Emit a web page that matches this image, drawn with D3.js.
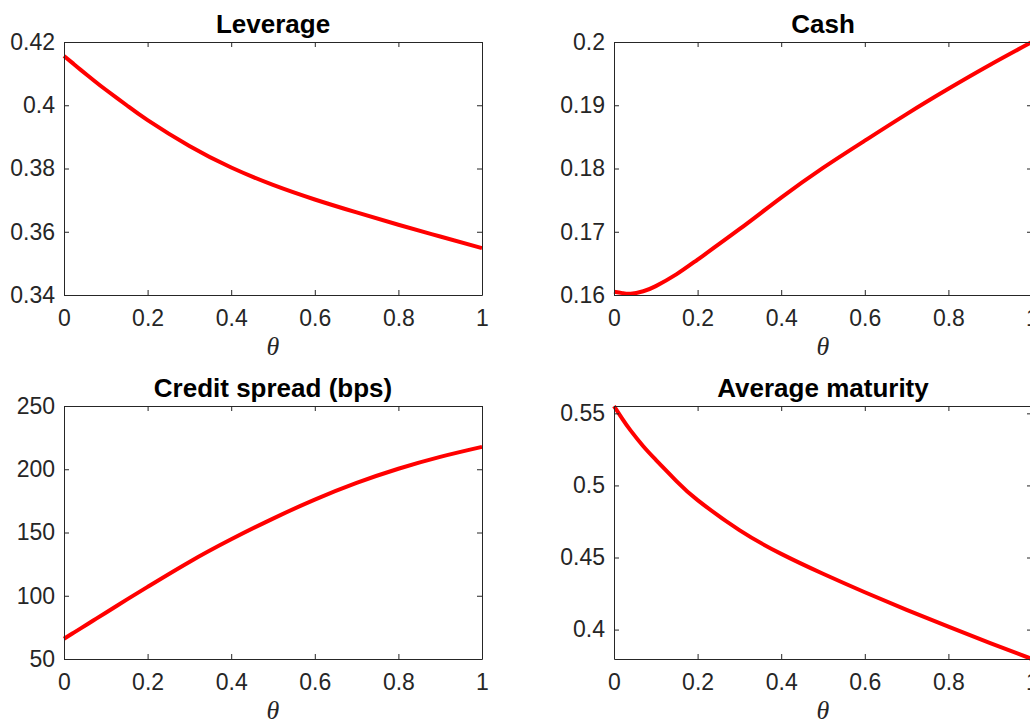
<!DOCTYPE html>
<html>
<head>
<meta charset="utf-8">
<script src="https://cdn.jsdelivr.net/npm/d3@7"></script>
<style>
  html, body { margin: 0; padding: 0; background: #fff; overflow: hidden; }
  svg { display: block; }
</style>
</head>
<body>
<svg id="chart" width="1030" height="721"></svg>
<script>
// data
const theta = [0, 0.02, 0.04, 0.07, 0.1, 0.15, 0.2, 0.3, 0.4, 0.5, 0.6, 0.7, 0.8, 0.9, 1];
const leverage = [0.4156, 0.4134, 0.4112, 0.4080, 0.4049, 0.4000, 0.3953, 0.3871, 0.3803, 0.3748, 0.3702, 0.3661, 0.3622, 0.3585, 0.3548];
const cash = [0.1605, 0.1603, 0.1602, 0.1606, 0.1614, 0.1633, 0.1656, 0.1704, 0.1754, 0.1801, 0.1844, 0.1886, 0.1926, 0.1964, 0.2000];
const creditSpread = [66.0, 70.1, 74.2, 80.4, 86.6, 96.9, 107.0, 126.7, 144.6, 161.0, 176.0, 189.2, 200.4, 209.8, 217.7];
const avgMaturity = [0.5550, 0.5462, 0.5380, 0.5272, 0.5178, 0.5028, 0.4898, 0.4690, 0.4525, 0.4387, 0.4259, 0.4137, 0.4020, 0.3906, 0.3796];

const titles = ["Leverage", "Cash", "Credit spread (bps)", "Average maturity"];
const xTicks = [0, 0.2, 0.4, 0.6, 0.8, 1];
const levTicks = [0.34, 0.36, 0.38, 0.40, 0.42];
const cashTicks = [0.16, 0.17, 0.18, 0.19, 0.20];
const spreadTicks = [50, 100, 150, 200, 250];
const matTicks = [0.40, 0.45, 0.50, 0.55];

const panels = [
  { title: titles[0], y: leverage, domain: [0.34, 0.42], ticks: levTicks, col: 0, row: 0 },
  { title: titles[1], y: cash, domain: [0.16, 0.20], ticks: cashTicks, col: 1, row: 0 },
  { title: titles[2], y: creditSpread, domain: [50, 250], ticks: spreadTicks, col: 0, row: 1 },
  { title: titles[3], y: avgMaturity, domain: [0.3796, 0.5551], ticks: matTicks, col: 1, row: 1 }
];

const svg = d3.select("#chart");
const axW = 418, axH = 253;
const colX = [64, 614], rowY = [42, 406];
const ink = "#262626";
const sans = "'Liberation Sans', Arial, Helvetica, sans-serif";
const fmt = d => String(+d.toFixed(4));

panels.forEach(p => {
  const g = svg.append("g").attr("transform", `translate(${colX[p.col]},${rowY[p.row]})`);
  const x = d3.scaleLinear().domain([0, 1]).range([0, axW]);
  const y = d3.scaleLinear().domain(p.domain).range([axH, 0]);

  // curve
  const line = d3.line()
    .x((d, i) => x(theta[i]))
    .y(d => y(d))
    .curve(d3.curveNatural);
  g.append("path")
    .datum(p.y)
    .attr("d", line)
    .attr("fill", "none")
    .attr("stroke", "#ff0000")
    .attr("stroke-width", 4);

  // axes with inward ticks, mirrored on top/right
  const styleAxis = sel => {
    sel.select(".domain").attr("stroke", ink).attr("stroke-width", 1);
    sel.selectAll(".tick line").attr("stroke", ink);
    sel.selectAll("text").attr("fill", ink)
      .style("font-family", sans)
      .style("font-size", "23px");
  };
  g.append("g").attr("transform", `translate(0,${axH})`)
    .call(d3.axisBottom(x).tickValues(xTicks).tickSizeInner(-5).tickSizeOuter(0).tickPadding(15).tickFormat(fmt))
    .call(styleAxis);
  g.append("g")
    .call(d3.axisTop(x).tickValues(xTicks).tickSizeInner(-5).tickSizeOuter(0).tickFormat(""))
    .call(styleAxis);
  g.append("g")
    .call(d3.axisLeft(y).tickValues(p.ticks).tickSizeInner(-5).tickSizeOuter(0).tickPadding(9).tickFormat(fmt))
    .call(styleAxis);
  g.append("g").attr("transform", `translate(${axW},0)`)
    .call(d3.axisRight(y).tickValues(p.ticks).tickSizeInner(-5).tickSizeOuter(0).tickFormat(""))
    .call(styleAxis);

  // title
  g.append("text")
    .attr("x", axW / 2).attr("y", -9)
    .attr("text-anchor", "middle")
    .style("font-family", sans)
    .style("font-weight", "bold")
    .style("font-size", "26px")
    .attr("fill", "#000")
    .text(p.title);

  // x label
  g.append("text")
    .attr("x", axW / 2).attr("y", axH + 60)
    .attr("text-anchor", "middle")
    .style("font-family", "'Liberation Serif', 'DejaVu Serif', serif")
    .style("font-style", "italic")
    .style("font-size", "26px")
    .attr("fill", ink)
    .text("θ");
});
</script>
</body>
</html>
